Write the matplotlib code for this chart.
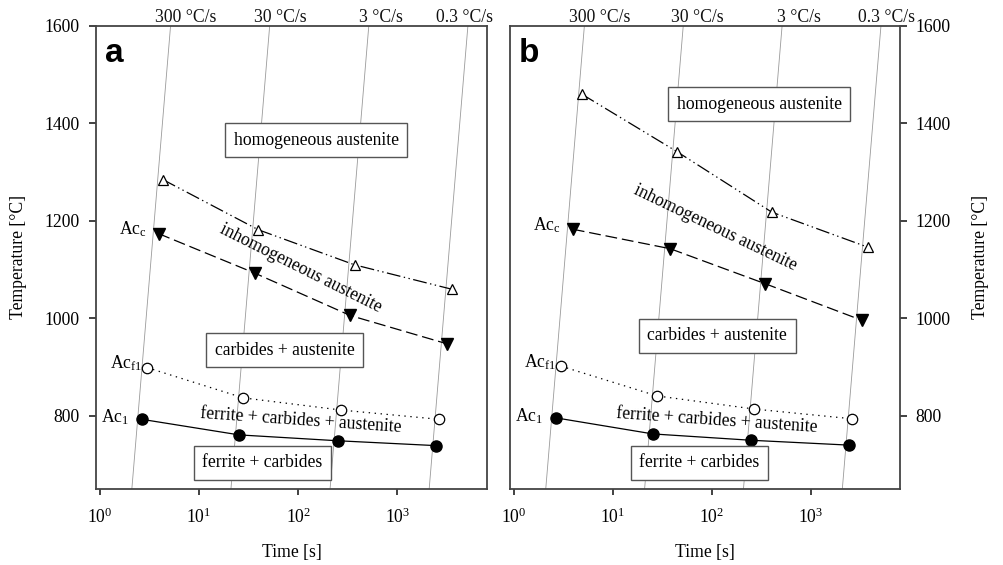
import matplotlib
matplotlib.use("Agg")
import matplotlib.pyplot as plt
import numpy as np

plt.rcParams["font.family"] = ["Liberation Serif", "DejaVu Serif"]
plt.rcParams["mathtext.fontset"] = "custom"
plt.rcParams["mathtext.rm"] = "Liberation Serif"
plt.rcParams["mathtext.it"] = "Liberation Serif:italic"
plt.rcParams["lines.scale_dashes"] = False

# Heating rates (°C/s) and their labels
rates = [300, 30, 3, 0.3]
rate_labels = ["300 °C/s", "30 °C/s", "3 °C/s", "0.3 °C/s"]

# Panel a: transformation temperatures (°C) and times (s)
a_hom_t = [4.3, 39.5, 370, 3530]
a_hom_T = [1285, 1182, 1110, 1060]
a_acc_t = [3.9, 36.4, 335, 3160]
a_acc_T = [1174, 1093, 1006, 948]
a_acf_t = [3.0, 27.9, 271, 2640]
a_acf_T = [899, 837, 812, 793]
a_ac1_t = [2.64, 25.4, 250, 2460]
a_ac1_T = [793, 761, 749, 739]

# Panel b
b_hom_t = [4.87, 44.7, 406, 3820]
b_hom_T = [1460, 1342, 1218, 1146]
b_acc_t = [3.94, 38.1, 350, 3320]
b_acc_T = [1183, 1143, 1071, 996]
b_acf_t = [3.0, 28.0, 271, 2650]
b_acf_T = [902, 841, 814, 794]
b_ac1_t = [2.65, 25.4, 250, 2465]
b_ac1_T = [796, 763, 750, 740]

yticks = [800, 1000, 1200, 1400, 1600]
xticks = [1, 10, 100, 1000]

FS = 12.7
PX = 0.72  # points per pixel at 100 dpi

W, H = 1004, 565
fig = plt.figure(figsize=(W / 100, H / 100), dpi=100)


def axes_px(x0, x1, ytop, ybot):
    return fig.add_axes([x0 / W, 1 - ybot / H, (x1 - x0) / W, (ybot - ytop) / H])


ax_a = axes_px(96, 487, 26, 489)
ax_b = axes_px(510, 900, 26, 489)

box = dict(boxstyle="square,pad=0.48", fc="white", ec="#555555", lw=1.0)


def draw_panel(ax, letter, hom, acc, acf, ac1, rate_dx, texts, right=False):
    ax.set_xscale("log")
    ax.set_xlim(10 ** -0.04, 10 ** 3.905)
    ax.set_ylim(650, 1600)

    # constant heating-rate guide lines: t = T / rate
    Tline = np.array([600.0, 1700.0])
    for r, lab, dx in zip(rates, rate_labels, rate_dx):
        ax.plot(Tline / r, Tline, color="#9a9a9a", lw=0.6, zorder=1)
        ax.annotate(lab, xy=(1600 / r, 1600), xycoords="data",
                    xytext=(dx * PX, 3.5 * PX), textcoords="offset points",
                    ha="center", va="baseline", fontsize=FS, color="#111111",
                    annotation_clip=False)

    ax.plot(hom[0], hom[1], color="black", lw=0.9,
            dashes=(10, 2.5, 1, 2.5, 1, 2.5), marker="^", ms=7.8,
            mfc="white", mec="black", mew=0.9, zorder=3)
    ax.plot(acc[0], acc[1], color="black", lw=0.9, dashes=(8.5, 3.5),
            marker="v", ms=8.2, mfc="black", mec="black", zorder=3)
    ax.plot(acf[0], acf[1], color="black", lw=0.9, dashes=(1, 3.3),
            marker="o", ms=7.5, mfc="white", mec="black", mew=0.9, zorder=3)
    ax.plot(ac1[0], ac1[1], color="black", lw=0.9, ls="-",
            marker="o", ms=8, mfc="black", mec="black", zorder=3)

    # curve names beside the first point
    ax.annotate("Ac$_\\mathrm{c}$", xy=(acc[0][0], acc[1][0]),
                xytext=(-12 * PX, 4 * PX), textcoords="offset points",
                ha="right", va="center", fontsize=FS)
    ax.annotate("Ac$_\\mathrm{f1}$", xy=(acf[0][0], acf[1][0]),
                xytext=(-5 * PX, 4 * PX), textcoords="offset points",
                ha="right", va="center", fontsize=FS)
    ax.annotate("Ac$_\\mathrm{1}$", xy=(ac1[0][0], ac1[1][0]),
                xytext=(-13 * PX, 2 * PX), textcoords="offset points",
                ha="right", va="center", fontsize=FS)

    # phase-field labels
    for (s, x, y, rot, boxed) in texts:
        kw = dict(bbox=box) if boxed else {}
        ax.text(x, y, s, ha="center", va="center", rotation=rot,
                rotation_mode="anchor", fontsize=FS, zorder=4, **kw)

    ax.text(0.023, 0.922, letter, transform=ax.transAxes, fontsize=24,
            fontweight="bold", family="Liberation Sans", va="baseline",
            ha="left")

    for sp in ax.spines.values():
        sp.set_color("#444444")
        sp.set_linewidth(1.3)

    ax.set_xticks(xticks)
    ax.xaxis.set_minor_locator(matplotlib.ticker.NullLocator())
    ax.xaxis.set_major_formatter(matplotlib.ticker.LogFormatterMathtext())
    ax.set_yticks(yticks)
    ax.tick_params(axis="x", direction="out", length=4.2, width=1.3,
                   color="#333333", pad=9, labelsize=FS)
    ax.tick_params(axis="y", direction="out", length=5, width=1.3,
                   color="#333333", pad=6.5, labelsize=FS)
    if right:
        ax.yaxis.tick_right()
        ax.tick_params(axis="y", pad=6)


draw_panel(
    ax_a, "a",
    (a_hom_t, a_hom_T), (a_acc_t, a_acc_T), (a_acf_t, a_acf_T), (a_ac1_t, a_ac1_T),
    rate_dx=[14, 9, 11, -5],
    texts=[
        ("homogeneous austenite", 152, 1366, 0, True),
        ("carbides + austenite", 72.7, 935, 0, True),
        ("ferrite + carbides", 43.5, 704, 0, True),
        ("inhomogeneous austenite", 105, 1103, -26.6, False),
        ("ferrite + carbides + austenite", 107, 790, -4, False),
    ],
)

draw_panel(
    ax_b, "b",
    (b_hom_t, b_hom_T), (b_acc_t, b_acc_T), (b_acf_t, b_acf_T), (b_ac1_t, b_ac1_T),
    rate_dx=[14, 13, 15, 4],
    texts=[
        ("homogeneous austenite", 303, 1439, 0, True),
        ("carbides + austenite", 114, 964, 0, True),
        ("ferrite + carbides", 75, 704, 0, True),
        ("inhomogeneous austenite", 109, 1185, -25.6, False),
        ("ferrite + carbides + austenite", 114, 790, -4, False),
    ],
    right=True,
)

# axis titles
fig.text(18.5 / W, 1 - 257 / H, "Temperature [°C]", rotation=90,
         ha="center", va="center", fontsize=FS)
fig.text(981 / W, 1 - 257 / H, "Temperature [°C]", rotation=90,
         ha="center", va="center", fontsize=FS)
fig.text(291.5 / W, 1 - 552 / H, "Time [s]", ha="center", va="center", fontsize=FS)
fig.text(705 / W, 1 - 552 / H, "Time [s]", ha="center", va="center", fontsize=FS)

fig.savefig("out.png", dpi=100)
